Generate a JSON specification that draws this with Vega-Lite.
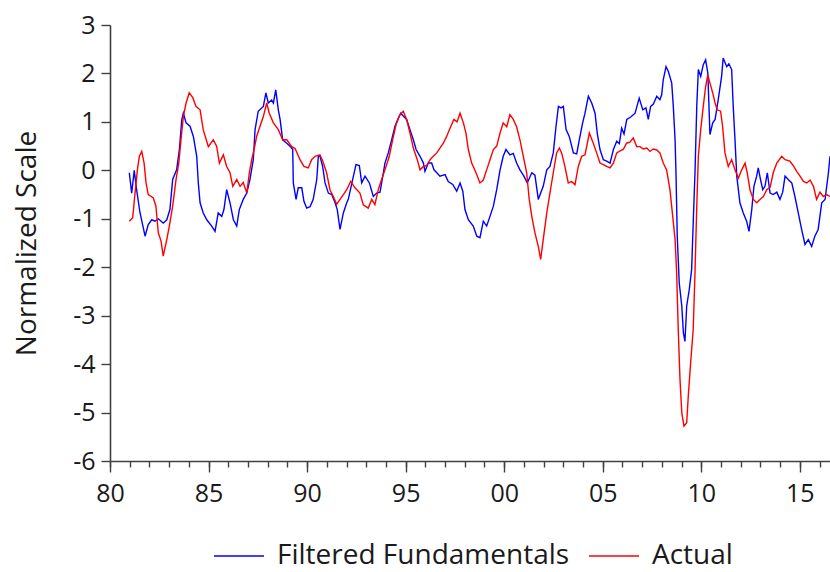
{
  "$schema": "https://vega.github.io/schema/vega-lite/v6.json",
  "width": 720,
  "height": 436,
  "autosize": {"type": "none"},
  "padding": {"left": 110, "top": 25, "right": 0, "bottom": 111},
  "background": "white",
  "config": {
    "view": {"stroke": null},
    "font": "Open Sans",
    "axis": {
      "labelFont": "Open Sans",
      "titleFont": "Open Sans",
      "labelColor": "#1a1a1a",
      "titleColor": "#1a1a1a",
      "domainColor": "#404040",
      "tickColor": "#404040",
      "domainWidth": 1.6,
      "tickWidth": 1.4,
      "grid": false
    }
  },
  "datasets": {
    "fundamentals": [
      {"t": 1980.98, "v": -0.05}, {"t": 1981.10, "v": -0.47}, {"t": 1981.23, "v": 0.0}, {"t": 1981.35, "v": -0.4},
      {"t": 1981.52, "v": -0.87}, {"t": 1981.78, "v": -1.36}, {"t": 1981.94, "v": -1.12}, {"t": 1982.12, "v": -1.02},
      {"t": 1982.28, "v": -1.05}, {"t": 1982.45, "v": -1.0}, {"t": 1982.70, "v": -1.09}, {"t": 1982.88, "v": -1.02},
      {"t": 1983.04, "v": -0.81}, {"t": 1983.18, "v": -0.19}, {"t": 1983.38, "v": 0.01}, {"t": 1983.52, "v": 0.43},
      {"t": 1983.64, "v": 1.04}, {"t": 1983.72, "v": 1.18}, {"t": 1983.86, "v": 0.98}, {"t": 1984.06, "v": 0.91},
      {"t": 1984.23, "v": 0.7}, {"t": 1984.40, "v": 0.29}, {"t": 1984.48, "v": -0.26}, {"t": 1984.57, "v": -0.67},
      {"t": 1984.73, "v": -0.88}, {"t": 1984.91, "v": -1.02}, {"t": 1985.16, "v": -1.15}, {"t": 1985.33, "v": -1.26},
      {"t": 1985.49, "v": -0.88}, {"t": 1985.67, "v": -0.95}, {"t": 1985.78, "v": -0.81}, {"t": 1985.92, "v": -0.4},
      {"t": 1986.09, "v": -0.67}, {"t": 1986.26, "v": -1.02}, {"t": 1986.43, "v": -1.15}, {"t": 1986.56, "v": -0.81},
      {"t": 1986.76, "v": -0.6}, {"t": 1986.94, "v": -0.47}, {"t": 1987.10, "v": -0.19}, {"t": 1987.27, "v": 0.22},
      {"t": 1987.36, "v": 0.84}, {"t": 1987.52, "v": 1.22}, {"t": 1987.78, "v": 1.32}, {"t": 1987.91, "v": 1.6},
      {"t": 1988.03, "v": 1.39}, {"t": 1988.20, "v": 1.45}, {"t": 1988.29, "v": 1.39}, {"t": 1988.41, "v": 1.66},
      {"t": 1988.54, "v": 1.25}, {"t": 1988.63, "v": 1.05}, {"t": 1988.76, "v": 0.63}, {"t": 1988.97, "v": 0.56},
      {"t": 1989.13, "v": 0.5}, {"t": 1989.27, "v": 0.43}, {"t": 1989.30, "v": -0.26}, {"t": 1989.44, "v": -0.6},
      {"t": 1989.55, "v": -0.36}, {"t": 1989.73, "v": -0.36}, {"t": 1989.84, "v": -0.64}, {"t": 1989.98, "v": -0.78},
      {"t": 1990.15, "v": -0.75}, {"t": 1990.31, "v": -0.6}, {"t": 1990.49, "v": -0.19}, {"t": 1990.57, "v": 0.29},
      {"t": 1990.65, "v": 0.3}, {"t": 1990.79, "v": 0.08}, {"t": 1990.91, "v": -0.26}, {"t": 1991.08, "v": -0.47},
      {"t": 1991.25, "v": -0.5}, {"t": 1991.42, "v": -0.67}, {"t": 1991.53, "v": -0.81}, {"t": 1991.67, "v": -1.22},
      {"t": 1991.84, "v": -0.88}, {"t": 1992.01, "v": -0.67}, {"t": 1992.09, "v": -0.6}, {"t": 1992.31, "v": -0.19},
      {"t": 1992.48, "v": 0.12}, {"t": 1992.65, "v": 0.1}, {"t": 1992.77, "v": -0.26}, {"t": 1992.94, "v": -0.12},
      {"t": 1993.16, "v": -0.26}, {"t": 1993.36, "v": -0.54}, {"t": 1993.53, "v": -0.47}, {"t": 1993.70, "v": -0.45},
      {"t": 1993.84, "v": -0.12}, {"t": 1993.95, "v": 0.15}, {"t": 1994.12, "v": 0.36}, {"t": 1994.29, "v": 0.63},
      {"t": 1994.46, "v": 0.91}, {"t": 1994.63, "v": 1.08}, {"t": 1994.75, "v": 1.18}, {"t": 1994.88, "v": 1.12},
      {"t": 1995.05, "v": 1.05}, {"t": 1995.22, "v": 0.84}, {"t": 1995.39, "v": 0.63}, {"t": 1995.53, "v": 0.43},
      {"t": 1995.73, "v": 0.29}, {"t": 1995.90, "v": 0.15}, {"t": 1995.98, "v": -0.02}, {"t": 1996.15, "v": 0.15},
      {"t": 1996.32, "v": 0.15}, {"t": 1996.44, "v": 0.01}, {"t": 1996.58, "v": -0.05}, {"t": 1996.74, "v": -0.12},
      {"t": 1997.00, "v": -0.09}, {"t": 1997.16, "v": -0.23}, {"t": 1997.39, "v": -0.29}, {"t": 1997.59, "v": -0.43},
      {"t": 1997.76, "v": -0.26}, {"t": 1997.90, "v": -0.43}, {"t": 1998.01, "v": -0.81}, {"t": 1998.18, "v": -1.02},
      {"t": 1998.43, "v": -1.15}, {"t": 1998.61, "v": -1.36}, {"t": 1998.77, "v": -1.39}, {"t": 1998.94, "v": -1.05},
      {"t": 1999.11, "v": -1.15}, {"t": 1999.28, "v": -0.95}, {"t": 1999.45, "v": -0.74}, {"t": 1999.62, "v": -0.4},
      {"t": 1999.79, "v": 0.01}, {"t": 1999.95, "v": 0.29}, {"t": 2000.09, "v": 0.43}, {"t": 2000.29, "v": 0.32},
      {"t": 2000.46, "v": 0.35}, {"t": 2000.63, "v": 0.15}, {"t": 2000.80, "v": 0.01}, {"t": 2001.00, "v": -0.12},
      {"t": 2001.17, "v": -0.26}, {"t": 2001.40, "v": -0.05}, {"t": 2001.56, "v": -0.1}, {"t": 2001.73, "v": -0.6},
      {"t": 2001.85, "v": -0.47}, {"t": 2001.98, "v": -0.33}, {"t": 2002.16, "v": 0.01}, {"t": 2002.32, "v": 0.08},
      {"t": 2002.49, "v": 0.36}, {"t": 2002.63, "v": 0.91}, {"t": 2002.75, "v": 1.32}, {"t": 2002.88, "v": 1.29},
      {"t": 2003.00, "v": 1.32}, {"t": 2003.14, "v": 0.84}, {"t": 2003.30, "v": 0.7}, {"t": 2003.51, "v": 0.36},
      {"t": 2003.68, "v": 0.34}, {"t": 2003.81, "v": 0.63}, {"t": 2003.98, "v": 0.98}, {"t": 2004.10, "v": 1.18},
      {"t": 2004.27, "v": 1.53}, {"t": 2004.44, "v": 1.39}, {"t": 2004.61, "v": 1.18}, {"t": 2004.72, "v": 0.77},
      {"t": 2004.86, "v": 0.43}, {"t": 2005.03, "v": 0.22}, {"t": 2005.20, "v": 0.19}, {"t": 2005.37, "v": 0.15},
      {"t": 2005.54, "v": 0.43}, {"t": 2005.71, "v": 0.6}, {"t": 2005.84, "v": 0.55}, {"t": 2005.96, "v": 0.87},
      {"t": 2006.08, "v": 0.75}, {"t": 2006.22, "v": 1.05}, {"t": 2006.42, "v": 1.1}, {"t": 2006.64, "v": 1.18},
      {"t": 2006.85, "v": 1.49}, {"t": 2007.03, "v": 1.25}, {"t": 2007.19, "v": 1.29}, {"t": 2007.31, "v": 1.05},
      {"t": 2007.43, "v": 1.32}, {"t": 2007.57, "v": 1.37}, {"t": 2007.74, "v": 1.53}, {"t": 2007.90, "v": 1.46},
      {"t": 2007.99, "v": 1.56}, {"t": 2008.07, "v": 1.87}, {"t": 2008.21, "v": 2.14}, {"t": 2008.33, "v": 2.04},
      {"t": 2008.50, "v": 1.8}, {"t": 2008.58, "v": 1.32}, {"t": 2008.67, "v": 0.63}, {"t": 2008.72, "v": -0.12},
      {"t": 2008.78, "v": -1.36}, {"t": 2008.88, "v": -2.32}, {"t": 2009.01, "v": -2.8}, {"t": 2009.09, "v": -3.35},
      {"t": 2009.17, "v": -3.53}, {"t": 2009.26, "v": -2.8}, {"t": 2009.39, "v": -2.46}, {"t": 2009.51, "v": -2.05},
      {"t": 2009.59, "v": -1.08}, {"t": 2009.68, "v": -0.05}, {"t": 2009.77, "v": 1.32}, {"t": 2009.85, "v": 2.08},
      {"t": 2009.97, "v": 1.94}, {"t": 2010.10, "v": 2.18}, {"t": 2010.22, "v": 2.28}, {"t": 2010.33, "v": 2.01},
      {"t": 2010.44, "v": 0.74}, {"t": 2010.58, "v": 0.98}, {"t": 2010.70, "v": 1.05}, {"t": 2010.86, "v": 1.46},
      {"t": 2011.03, "v": 1.94}, {"t": 2011.11, "v": 2.32}, {"t": 2011.29, "v": 2.14}, {"t": 2011.40, "v": 2.2},
      {"t": 2011.54, "v": 2.08}, {"t": 2011.62, "v": 1.32}, {"t": 2011.71, "v": 0.63}, {"t": 2011.80, "v": -0.12},
      {"t": 2011.96, "v": -0.67}, {"t": 2012.13, "v": -0.88}, {"t": 2012.30, "v": -1.05}, {"t": 2012.42, "v": -1.26},
      {"t": 2012.56, "v": -0.81}, {"t": 2012.67, "v": -0.33}, {"t": 2012.81, "v": -0.12}, {"t": 2012.89, "v": 0.05},
      {"t": 2013.01, "v": -0.2}, {"t": 2013.12, "v": -0.4}, {"t": 2013.23, "v": -0.33}, {"t": 2013.35, "v": -0.05},
      {"t": 2013.49, "v": -0.47}, {"t": 2013.65, "v": -0.5}, {"t": 2013.83, "v": -0.45}, {"t": 2013.99, "v": -0.6},
      {"t": 2014.13, "v": -0.45}, {"t": 2014.25, "v": -0.12}, {"t": 2014.41, "v": -0.19}, {"t": 2014.59, "v": -0.26},
      {"t": 2014.75, "v": -0.54}, {"t": 2014.92, "v": -0.88}, {"t": 2015.09, "v": -1.22}, {"t": 2015.26, "v": -1.53},
      {"t": 2015.43, "v": -1.43}, {"t": 2015.60, "v": -1.57}, {"t": 2015.76, "v": -1.36}, {"t": 2015.93, "v": -1.22},
      {"t": 2016.11, "v": -0.67}, {"t": 2016.28, "v": -0.6}, {"t": 2016.45, "v": -0.05}, {"t": 2016.53, "v": 0.29}
    ],
    "actual": [
      {"t": 1980.98, "v": -1.05}, {"t": 1981.15, "v": -0.98}, {"t": 1981.27, "v": -0.47}, {"t": 1981.39, "v": 0.01},
      {"t": 1981.49, "v": 0.29}, {"t": 1981.61, "v": 0.39}, {"t": 1981.73, "v": 0.15}, {"t": 1981.83, "v": -0.26},
      {"t": 1981.94, "v": -0.5}, {"t": 1982.20, "v": -0.57}, {"t": 1982.33, "v": -0.74}, {"t": 1982.45, "v": -1.29},
      {"t": 1982.59, "v": -1.46}, {"t": 1982.70, "v": -1.77}, {"t": 1982.88, "v": -1.43}, {"t": 1983.01, "v": -1.15},
      {"t": 1983.18, "v": -0.74}, {"t": 1983.35, "v": -0.19}, {"t": 1983.49, "v": 0.15}, {"t": 1983.60, "v": 0.63},
      {"t": 1983.72, "v": 1.11}, {"t": 1983.86, "v": 1.39}, {"t": 1984.02, "v": 1.6}, {"t": 1984.20, "v": 1.5},
      {"t": 1984.36, "v": 1.32}, {"t": 1984.57, "v": 1.25}, {"t": 1984.73, "v": 0.84}, {"t": 1984.99, "v": 0.49},
      {"t": 1985.24, "v": 0.63}, {"t": 1985.41, "v": 0.5}, {"t": 1985.55, "v": 0.15}, {"t": 1985.75, "v": 0.32},
      {"t": 1985.92, "v": 0.08}, {"t": 1986.09, "v": -0.05}, {"t": 1986.23, "v": -0.33}, {"t": 1986.43, "v": -0.19},
      {"t": 1986.60, "v": -0.33}, {"t": 1986.76, "v": -0.25}, {"t": 1986.94, "v": -0.47}, {"t": 1987.07, "v": -0.05},
      {"t": 1987.19, "v": 0.22}, {"t": 1987.31, "v": 0.43}, {"t": 1987.44, "v": 0.7}, {"t": 1987.61, "v": 0.91},
      {"t": 1987.78, "v": 1.11}, {"t": 1987.95, "v": 1.39}, {"t": 1988.08, "v": 1.18}, {"t": 1988.29, "v": 0.98},
      {"t": 1988.54, "v": 0.84}, {"t": 1988.76, "v": 0.63}, {"t": 1988.97, "v": 0.63}, {"t": 1989.22, "v": 0.49},
      {"t": 1989.39, "v": 0.45}, {"t": 1989.64, "v": 0.22}, {"t": 1989.84, "v": 0.08}, {"t": 1990.06, "v": 0.05},
      {"t": 1990.23, "v": 0.22}, {"t": 1990.40, "v": 0.29}, {"t": 1990.65, "v": 0.32}, {"t": 1990.79, "v": 0.2},
      {"t": 1990.99, "v": -0.05}, {"t": 1991.16, "v": -0.4}, {"t": 1991.33, "v": -0.54}, {"t": 1991.50, "v": -0.7},
      {"t": 1991.67, "v": -0.6}, {"t": 1991.84, "v": -0.5}, {"t": 1992.01, "v": -0.4}, {"t": 1992.21, "v": -0.23},
      {"t": 1992.43, "v": -0.36}, {"t": 1992.68, "v": -0.47}, {"t": 1992.85, "v": -0.71}, {"t": 1993.10, "v": -0.78},
      {"t": 1993.28, "v": -0.6}, {"t": 1993.44, "v": -0.71}, {"t": 1993.61, "v": -0.4}, {"t": 1993.78, "v": -0.19},
      {"t": 1993.95, "v": 0.01}, {"t": 1994.17, "v": 0.29}, {"t": 1994.34, "v": 0.63}, {"t": 1994.51, "v": 0.94},
      {"t": 1994.71, "v": 1.15}, {"t": 1994.88, "v": 1.22}, {"t": 1995.05, "v": 1.05}, {"t": 1995.22, "v": 0.77},
      {"t": 1995.39, "v": 0.46}, {"t": 1995.59, "v": 0.22}, {"t": 1995.73, "v": 0.01}, {"t": 1995.90, "v": 0.08},
      {"t": 1996.07, "v": 0.1}, {"t": 1996.24, "v": 0.22}, {"t": 1996.40, "v": 0.29}, {"t": 1996.58, "v": 0.36},
      {"t": 1996.74, "v": 0.46}, {"t": 1996.91, "v": 0.56}, {"t": 1997.08, "v": 0.7}, {"t": 1997.25, "v": 0.87},
      {"t": 1997.45, "v": 1.05}, {"t": 1997.61, "v": 1.0}, {"t": 1997.76, "v": 1.18}, {"t": 1997.93, "v": 0.98},
      {"t": 1998.06, "v": 0.77}, {"t": 1998.18, "v": 0.43}, {"t": 1998.35, "v": 0.15}, {"t": 1998.57, "v": -0.05},
      {"t": 1998.77, "v": -0.26}, {"t": 1998.94, "v": -0.2}, {"t": 1999.11, "v": 0.01}, {"t": 1999.28, "v": 0.22},
      {"t": 1999.45, "v": 0.43}, {"t": 1999.62, "v": 0.5}, {"t": 1999.79, "v": 0.77}, {"t": 1999.95, "v": 0.98},
      {"t": 2000.13, "v": 0.9}, {"t": 2000.29, "v": 1.15}, {"t": 2000.46, "v": 1.05}, {"t": 2000.63, "v": 0.9},
      {"t": 2000.80, "v": 0.63}, {"t": 2000.97, "v": 0.29}, {"t": 2001.14, "v": -0.05}, {"t": 2001.27, "v": -0.6},
      {"t": 2001.40, "v": -0.95}, {"t": 2001.56, "v": -1.29}, {"t": 2001.73, "v": -1.57}, {"t": 2001.85, "v": -1.84},
      {"t": 2001.98, "v": -1.43}, {"t": 2002.16, "v": -0.88}, {"t": 2002.32, "v": -0.47}, {"t": 2002.49, "v": -0.05},
      {"t": 2002.66, "v": 0.36}, {"t": 2002.80, "v": 0.46}, {"t": 2002.92, "v": 0.35}, {"t": 2003.08, "v": 0.08},
      {"t": 2003.25, "v": -0.26}, {"t": 2003.42, "v": -0.23}, {"t": 2003.59, "v": -0.3}, {"t": 2003.76, "v": 0.08},
      {"t": 2003.93, "v": 0.29}, {"t": 2004.10, "v": 0.32}, {"t": 2004.32, "v": 0.77}, {"t": 2004.52, "v": 0.56},
      {"t": 2004.69, "v": 0.36}, {"t": 2004.86, "v": 0.15}, {"t": 2005.03, "v": 0.12}, {"t": 2005.20, "v": 0.08},
      {"t": 2005.37, "v": 0.05}, {"t": 2005.54, "v": 0.15}, {"t": 2005.71, "v": 0.36}, {"t": 2005.88, "v": 0.4},
      {"t": 2006.04, "v": 0.43}, {"t": 2006.21, "v": 0.56}, {"t": 2006.38, "v": 0.58}, {"t": 2006.55, "v": 0.67},
      {"t": 2006.72, "v": 0.49}, {"t": 2006.89, "v": 0.49}, {"t": 2007.06, "v": 0.44}, {"t": 2007.23, "v": 0.46},
      {"t": 2007.40, "v": 0.39}, {"t": 2007.56, "v": 0.44}, {"t": 2007.74, "v": 0.42}, {"t": 2007.90, "v": 0.36},
      {"t": 2008.07, "v": 0.15}, {"t": 2008.24, "v": 0.01}, {"t": 2008.41, "v": -0.4}, {"t": 2008.55, "v": -0.95},
      {"t": 2008.67, "v": -1.43}, {"t": 2008.75, "v": -2.12}, {"t": 2008.83, "v": -3.28}, {"t": 2008.92, "v": -4.32},
      {"t": 2009.01, "v": -5.0}, {"t": 2009.12, "v": -5.28}, {"t": 2009.26, "v": -5.21}, {"t": 2009.34, "v": -4.66},
      {"t": 2009.46, "v": -3.97}, {"t": 2009.59, "v": -3.28}, {"t": 2009.68, "v": -2.12}, {"t": 2009.77, "v": -0.74},
      {"t": 2009.85, "v": 0.29}, {"t": 2009.97, "v": 0.84}, {"t": 2010.10, "v": 1.32}, {"t": 2010.22, "v": 1.73},
      {"t": 2010.33, "v": 1.97}, {"t": 2010.44, "v": 1.8}, {"t": 2010.58, "v": 1.6}, {"t": 2010.70, "v": 1.39},
      {"t": 2010.81, "v": 1.25}, {"t": 2010.98, "v": 1.22}, {"t": 2011.08, "v": 0.91}, {"t": 2011.20, "v": 0.36},
      {"t": 2011.37, "v": 0.08}, {"t": 2011.54, "v": 0.22}, {"t": 2011.71, "v": 0.01}, {"t": 2011.88, "v": -0.16},
      {"t": 2012.05, "v": 0.01}, {"t": 2012.22, "v": 0.15}, {"t": 2012.33, "v": -0.05}, {"t": 2012.47, "v": -0.4},
      {"t": 2012.64, "v": -0.6}, {"t": 2012.81, "v": -0.67}, {"t": 2012.98, "v": -0.6}, {"t": 2013.15, "v": -0.54},
      {"t": 2013.32, "v": -0.4}, {"t": 2013.49, "v": -0.35}, {"t": 2013.65, "v": -0.05}, {"t": 2013.83, "v": 0.15},
      {"t": 2014.08, "v": 0.29}, {"t": 2014.25, "v": 0.22}, {"t": 2014.49, "v": 0.19}, {"t": 2014.66, "v": 0.1},
      {"t": 2014.84, "v": -0.02}, {"t": 2015.01, "v": -0.12}, {"t": 2015.18, "v": -0.23}, {"t": 2015.35, "v": -0.26},
      {"t": 2015.52, "v": -0.2}, {"t": 2015.69, "v": -0.33}, {"t": 2015.85, "v": -0.6}, {"t": 2016.02, "v": -0.45},
      {"t": 2016.19, "v": -0.54}, {"t": 2016.36, "v": -0.5}, {"t": 2016.53, "v": -0.54}
    ]
  },
  "layer": [
    {
      "data": {"name": "fundamentals"},
      "mark": {"type": "line", "strokeWidth": 1.4, "clip": true},
      "encoding": {
        "x": {
          "field": "t",
          "type": "quantitative",
          "scale": {"domain": [1980, 2016.53], "nice": false, "zero": false},
          "axis": {
            "orient": "bottom",
            "title": null,
            "values": [1980, 1985, 1990, 1995, 2000, 2005, 2010, 2015],
            "labelExpr": "(datum.value % 100 < 10 ? '0' : '') + (datum.value % 100)",
            "tickSize": 11,
            "labelPadding": 9,
            "labelFontSize": 25,
            "labelFlush": false,
            "labelOverlap": false
          }
        },
        "y": {
          "field": "v",
          "type": "quantitative",
          "scale": {"domain": [-6, 3], "nice": false, "zero": false},
          "axis": {
            "title": "Normalized Scale",
            "titleFontSize": 28,
            "titleFontWeight": "normal",
            "titlePadding": 31,
            "values": [-6, -5, -4, -3, -2, -1, 0, 1, 2, 3],
            "labelExpr": "'' + datum.value",
            "tickSize": 9,
            "labelPadding": 6,
            "labelFontSize": 25,
            "labelFlush": false,
            "labelOverlap": false
          }
        },
        "color": {
          "datum": "Filtered Fundamentals",
          "type": "nominal",
          "scale": {"domain": ["Filtered Fundamentals", "Actual"], "range": ["#0000ff", "#ff0000"]},
          "legend": {
            "title": null,
            "orient": "none",
            "direction": "horizontal",
            "legendX": 103,
            "legendY": 505,
            "symbolType": "stroke",
            "symbolSize": 2500,
            "symbolStrokeWidth": 1.5,
            "labelFontSize": 28,
            "labelFont": "Open Sans",
            "labelColor": "#1a1a1a",
            "labelOffset": 12,
            "columnPadding": 16,
            "labelLimit": 400
          }
        }
      }
    },
    {
      "data": {"name": "actual"},
      "mark": {"type": "line", "strokeWidth": 1.4, "clip": true},
      "encoding": {
        "x": {
          "field": "t",
          "type": "quantitative",
          "axis": {
            "orient": "bottom",
            "title": null,
            "domain": false,
            "labels": false,
            "values": [1980, 1981, 1982, 1983, 1984, 1985, 1986, 1987, 1988, 1989, 1990, 1991, 1992, 1993, 1994, 1995, 1996, 1997, 1998, 1999, 2000, 2001, 2002, 2003, 2004, 2005, 2006, 2007, 2008, 2009, 2010, 2011, 2012, 2013, 2014, 2015, 2016],
            "tickSize": 6
          }
        },
        "y": {"field": "v", "type": "quantitative"},
        "color": {"datum": "Actual", "type": "nominal"}
      }
    },
    {
      "mark": {"type": "rule", "color": "#404040", "strokeWidth": 1.6},
      "encoding": {"y": {"datum": 3}}
    }
  ],
  "resolve": {"axis": {"x": "independent"}}
}
